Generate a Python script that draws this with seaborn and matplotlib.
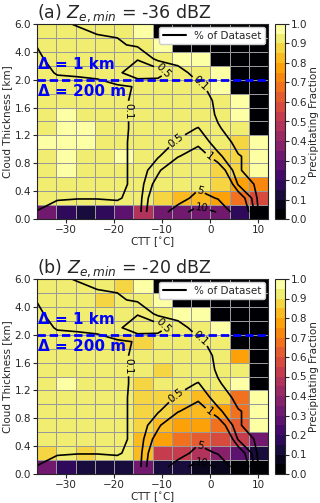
import numpy as np
import pandas as pd
import matplotlib
matplotlib.use("Agg")
import matplotlib.pyplot as plt
from matplotlib.lines import Line2D
import seaborn as sns

sns.set_style("ticks")
plt.rcParams['font.family'] = ['DejaVu Sans']

# ---------------- data ----------------
ctt_edges = [-36, -32, -28, -24, -20, -16, -12, -8, -4, 0, 4, 8, 12]
thick_edges = [0.0, 0.2, 0.4, 0.6, 0.8, 1.0, 1.2, 1.4, 1.6, 1.8, 2.0, 3.0, 4.0, 5.0, 6.0]
ctt_ticks = [-30, -20, -10, 0, 10]
thick_ticks = [0.0, 0.4, 0.8, 1.2, 1.6, 2.0, 4.0, 6.0]
cbar_ticks = [0.0, 0.1, 0.2, 0.3, 0.4, 0.5, 0.6, 0.7, 0.8, 0.9, 1.0]
contour_levels = [0.1, 0.5, 1, 5, 10]
titles = [r"(a) $Z_{e,min}$ = -36 dBZ", r"(b) $Z_{e,min}$ = -20 dBZ"]

# precipitating fraction, rows from top (5-6 km) to bottom (0-0.2 km)
frac_a = [
    [0.93, 0.93, 0.93, 0.93, 0.93, 0.98, 0.00, 0.00, 0.00, 0.00, 0.00, 0.00],
    [0.93, 0.93, 0.93, 0.93, 0.93, 0.93, 0.98, 0.00, 0.00, 0.00, 0.00, 0.00],
    [0.93, 0.93, 0.93, 0.93, 0.93, 0.93, 0.93, 0.98, 0.98, 0.00, 0.00, 0.00],
    [0.93, 0.93, 0.93, 0.93, 0.93, 0.93, 0.93, 0.93, 0.93, 0.98, 0.00, 0.00],
    [0.93, 0.93, 0.93, 0.93, 0.93, 0.93, 0.93, 0.93, 0.93, 0.98, 0.00, 0.00],
    [0.93, 0.93, 0.93, 0.93, 0.93, 0.93, 0.93, 0.93, 0.93, 0.93, 0.98, 0.00],
    [0.93, 0.98, 0.93, 0.93, 0.93, 0.93, 0.93, 0.93, 0.93, 0.93, 0.98, 0.00],
    [0.93, 0.98, 0.98, 0.93, 0.93, 0.93, 0.93, 0.93, 0.93, 0.93, 0.93, 0.00],
    [0.98, 0.98, 0.98, 0.93, 0.93, 0.93, 0.93, 0.93, 0.93, 0.93, 0.87, 0.98],
    [0.93, 0.98, 0.93, 0.93, 0.98, 0.93, 0.93, 0.93, 0.93, 0.88, 0.87, 0.98],
    [0.93, 0.98, 0.93, 0.93, 0.93, 0.93, 0.93, 0.93, 0.93, 0.88, 0.86, 0.98],
    [0.93, 0.93, 0.93, 0.93, 0.93, 0.93, 0.93, 0.93, 0.93, 0.87, 0.78, 0.72],
    [0.93, 0.93, 0.93, 0.93, 0.93, 0.93, 0.88, 0.83, 0.80, 0.78, 0.68, 0.58],
    [0.33, 0.17, 0.12, 0.17, 0.28, 0.48, 0.33, 0.30, 0.33, 0.30, 0.18, 0.00],
]
frac_b = [
    [0.93, 0.93, 0.93, 0.93, 0.86, 0.98, 0.00, 0.00, 0.00, 0.00, 0.00, 0.00],
    [0.93, 0.93, 0.93, 0.88, 0.93, 0.93, 0.98, 0.00, 0.00, 0.00, 0.00, 0.00],
    [0.93, 0.93, 0.93, 0.93, 0.93, 0.93, 0.93, 0.98, 0.98, 0.00, 0.00, 0.00],
    [0.93, 0.93, 0.93, 0.93, 0.93, 0.93, 0.93, 0.93, 0.93, 0.98, 0.00, 0.00],
    [0.93, 0.93, 0.93, 0.93, 0.88, 0.88, 0.93, 0.93, 0.93, 0.93, 0.00, 0.00],
    [0.93, 0.93, 0.93, 0.93, 0.93, 0.93, 0.93, 0.93, 0.93, 0.93, 0.76, 0.00],
    [0.93, 0.93, 0.93, 0.93, 0.93, 0.93, 0.88, 0.93, 0.93, 0.93, 0.93, 0.00],
    [0.93, 0.98, 0.93, 0.93, 0.93, 0.88, 0.93, 0.93, 0.93, 0.93, 0.96, 0.00],
    [0.93, 0.93, 0.93, 0.93, 0.93, 0.88, 0.87, 0.85, 0.82, 0.86, 0.68, 0.98],
    [0.93, 0.93, 0.93, 0.93, 0.93, 0.87, 0.85, 0.80, 0.80, 0.76, 0.66, 0.98],
    [0.93, 0.93, 0.93, 0.93, 0.93, 0.86, 0.80, 0.78, 0.76, 0.66, 0.60, 0.98],
    [0.93, 0.93, 0.93, 0.93, 0.93, 0.80, 0.76, 0.68, 0.60, 0.58, 0.50, 0.30],
    [0.87, 0.93, 0.88, 0.93, 0.93, 0.82, 0.52, 0.50, 0.46, 0.38, 0.28, 0.13],
    [0.32, 0.17, 0.10, 0.10, 0.10, 0.30, 0.10, 0.10, 0.08, 0.05, 0.02, 0.02],
]

# % of dataset (contoured), sampled at pct_ctt x pct_thick, rows from bottom to top
pct_ctt = [-36.0, -31.8, -27.6, -23.5, -19.3, -15.1, -10.9, -6.7, -2.5, 1.6, 5.8, 10.0]
pct_thick = [0.1, 0.3, 0.5, 0.7, 0.9, 1.1, 1.3, 1.5, 1.7, 1.9, 2.5, 3.5, 4.5, 6.0]
pct_dataset = [
    [0.11, 0.20, 0.25, 0.25, 0.20, 0.20, 2.00, 8.00, 12.0, 9.80, 2.00, 0.09],
    [0.01, 0.08, 0.09, 0.09, 0.08, 0.17, 1.74, 2.35, 7.00, 4.65, 1.50, 0.00],
    [0.01, 0.03, 0.04, 0.04, 0.05, 0.15, 1.30, 2.50, 3.50, 2.50, 0.45, 0.00],
    [0.01, 0.03, 0.04, 0.04, 0.05, 0.15, 0.85, 1.90, 2.00, 1.50, 0.12, 0.00],
    [0.01, 0.03, 0.04, 0.04, 0.05, 0.15, 0.45, 0.95, 1.50, 0.60, 0.12, 0.00],
    [0.01, 0.03, 0.04, 0.04, 0.05, 0.15, 0.30, 0.55, 0.80, 0.29, 0.01, 0.00],
    [0.01, 0.03, 0.04, 0.04, 0.05, 0.14, 0.20, 0.35, 0.52, 0.12, 0.00, 0.00],
    [0.01, 0.03, 0.04, 0.04, 0.05, 0.14, 0.20, 0.25, 0.25, 0.07, 0.00, 0.00],
    [0.01, 0.03, 0.04, 0.04, 0.05, 0.14, 0.20, 0.22, 0.20, 0.06, 0.00, 0.00],
    [0.03, 0.05, 0.05, 0.05, 0.05, 0.12, 0.12, 0.20, 0.15, 0.00, 0.00, 0.00],
    [0.05, 0.11, 0.12, 0.14, 0.41, 0.79, 0.75, 0.20, 0.00, 0.00, 0.00, 0.00],
    [0.05, 0.20, 0.25, 0.30, 0.30, 0.47, 0.00, 0.00, 0.00, 0.00, 0.00, 0.00],
    [0.11, 0.20, 0.25, 0.20, 0.15, 0.04, 0.00, 0.00, 0.00, 0.00, 0.00, 0.00],
    [0.15, 0.15, 0.08, 0.00, 0.00, 0.00, 0.00, 0.00, 0.00, 0.00, 0.00, 0.00],
]
level_text = {0.1: "0.1", 0.5: "0.5", 1: "1", 5: "5", 10: "10"}
# where the contour labels sit (CTT, km)
label_spots = [(-17.2, 1.55), (-2.0, 1.95), (-9.5, 2.8), (-7.9, 1.2),
               (-0.3, 0.88), (-2.0, 0.42), (-1.7, 0.17)]


def xpos(t):
    return np.interp(t, ctt_edges, np.arange(len(ctt_edges)))


def ypos(z):
    n = len(thick_edges) - 1
    return n - np.interp(z, thick_edges, np.arange(n + 1))


def minus(s):
    return s.replace("-", "\u2212")


# ---------------- figure ----------------
W, H = 320, 503
fig = plt.figure(figsize=(W / 100, H / 100), dpi=100)
cmap = plt.get_cmap("inferno").resampled(20)

panels = [(frac_a, 219), (frac_b, 474)]
for i, (frac, bottom_px) in enumerate(panels):
    ax = fig.add_axes([37 / W, (H - bottom_px) / H, 231 / W, 195 / H])
    cax = fig.add_axes([275 / W, (H - bottom_px) / H, 10 / W, 195 / H])
    df = pd.DataFrame(frac)
    sns.heatmap(df, ax=ax, cmap=cmap, vmin=0, vmax=1, cbar_ax=cax,
                linewidths=0.6, linecolor="0.6",
                xticklabels=False, yticklabels=False,
                cbar_kws={"ticks": cbar_ticks})

    # contours of % of dataset
    Xc, Yc = np.meshgrid(xpos(pct_ctt), ypos(pct_thick))
    cs = ax.contour(Xc, Yc, np.array(pct_dataset), levels=contour_levels,
                    colors="black", linewidths=1.2)
    spots = [(float(xpos(t)), float(ypos(z))) for t, z in label_spots]
    ax.clabel(cs, fmt=level_text, fontsize=7.5, inline=True,
              inline_spacing=2, manual=spots)

    # resolution change
    ax.axhline(ypos(2.0), color="blue", lw=2.0, ls=(0, (3.0, 1.4)))
    ax.text(0.005, 0.79, "\u0394 = 1 km", transform=ax.transAxes,
            color="blue", fontsize=11, fontweight="bold", va="center", ha="left")
    ax.text(0.005, 0.655, "\u0394 = 200 m", transform=ax.transAxes,
            color="blue", fontsize=11, fontweight="bold", va="center", ha="left")

    ax.legend(handles=[Line2D([0], [0], color="black", lw=1.5, label="% of Dataset")],
              loc="upper right", fontsize=7.5, frameon=True, framealpha=1,
              edgecolor="0.8", borderpad=0.35, borderaxespad=0.3,
              handlelength=2.2, handletextpad=0.8)

    ax.set_xticks(xpos(ctt_ticks))
    ax.set_xticklabels([minus(str(t)) for t in ctt_ticks], rotation=0)
    ax.set_yticks(ypos(thick_ticks))
    ax.set_yticklabels([f"{z:.1f}" for z in thick_ticks], rotation=0)
    ax.tick_params(axis="both", length=3, width=0.8, labelsize=7.5,
                   colors="0.15", pad=1.2)
    for s in ax.spines.values():
        s.set_visible(True)
        s.set_linewidth(0.8)
        s.set_color("0.15")
    ax.set_xlabel("CTT [$^{\\circ}$C]", fontsize=7.5, labelpad=0.5, color="0.15")
    ax.set_ylabel("Cloud Thickness [km]", fontsize=7.5, labelpad=1.5, color="0.15")
    ax.set_title(titles[i], loc="left", fontsize=12.5, pad=3, color="0.15")

    cbar = ax.collections[0].colorbar
    cbar.outline.set_linewidth(0.8)
    cbar.outline.set_edgecolor("0.15")
    cbar.ax.set_yticklabels([f"{v:.1f}" for v in cbar_ticks])
    cbar.ax.tick_params(labelsize=7.5, length=3, width=0.8, colors="0.15", pad=1.2)
    cbar.set_label("Precipitating Fraction", fontsize=7.5, color="0.15", labelpad=1)

fig.savefig("out.png", dpi=100)
